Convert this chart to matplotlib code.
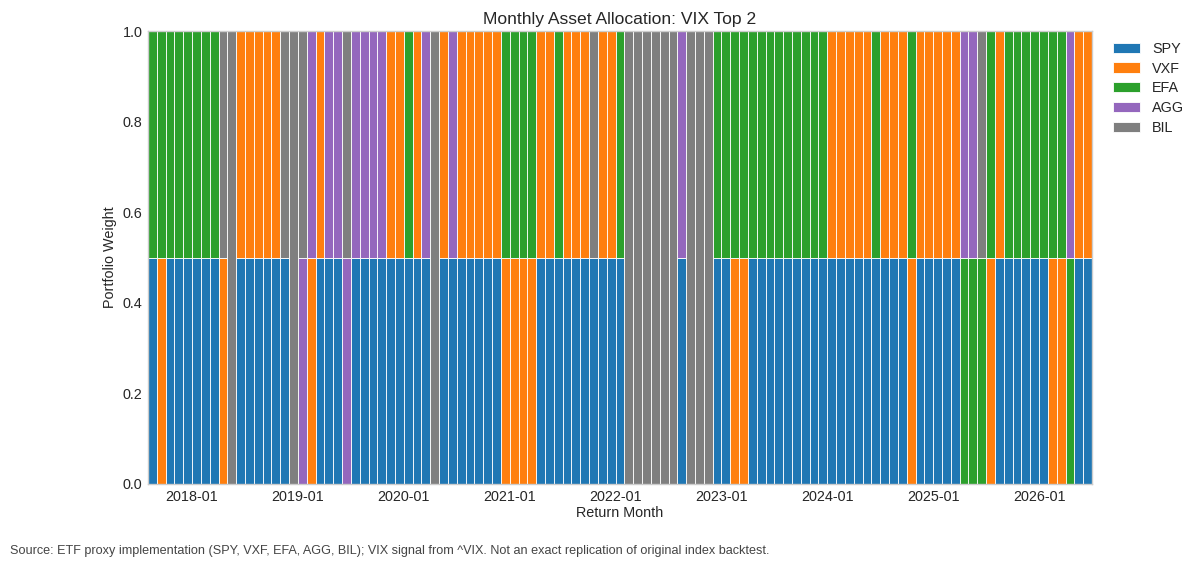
import matplotlib
matplotlib.use("Agg")
import matplotlib.pyplot as plt
import numpy as np
import pandas as pd
import seaborn as sns

# tickers and their colours (legend order = stacking order)
assets = ["SPY", "VXF", "EFA", "AGG", "BIL"]
colors = ["#1f77b4", "#ff7f0e", "#2ca02c", "#9467bd", "#7f7f7f"]

# return months shown on the chart
months = pd.date_range("2017-08-01", "2026-06-01", freq="MS")

# top-2 holdings per month, equal weighted (one ticker = 100%)
picks = [
    # 2017-08 .. 2017-12
    "SPY EFA", "VXF EFA", "SPY EFA", "SPY EFA", "SPY EFA",
    # 2018
    "SPY EFA", "SPY EFA", "SPY EFA", "VXF BIL", "BIL", "SPY VXF",
    "SPY VXF", "SPY VXF", "SPY VXF", "SPY VXF", "SPY BIL", "BIL",
    # 2019
    "AGG BIL", "VXF AGG", "SPY VXF", "SPY AGG", "SPY AGG", "AGG BIL",
    "SPY AGG", "SPY AGG", "SPY AGG", "SPY AGG", "SPY VXF", "SPY VXF",
    # 2020
    "SPY EFA", "SPY VXF", "SPY AGG", "BIL", "SPY VXF", "SPY AGG",
    "SPY VXF", "SPY VXF", "SPY VXF", "SPY VXF", "SPY VXF", "VXF EFA",
    # 2021
    "VXF EFA", "VXF EFA", "VXF EFA", "SPY VXF", "SPY VXF", "SPY EFA",
    "SPY VXF", "SPY VXF", "SPY VXF", "SPY BIL", "SPY VXF", "SPY VXF",
    # 2022
    "SPY EFA", "BIL", "BIL", "BIL", "BIL", "BIL",
    "BIL", "SPY AGG", "BIL", "BIL", "BIL", "SPY EFA",
    # 2023
    "SPY EFA", "VXF EFA", "VXF EFA", "SPY EFA", "SPY EFA", "SPY EFA",
    "SPY EFA", "SPY EFA", "SPY EFA", "SPY EFA", "SPY EFA", "SPY EFA",
    # 2024
    "SPY VXF", "SPY VXF", "SPY VXF", "SPY VXF", "SPY VXF", "SPY EFA",
    "SPY VXF", "SPY VXF", "SPY VXF", "VXF EFA", "SPY VXF", "SPY VXF",
    # 2025
    "SPY VXF", "SPY VXF", "SPY VXF", "EFA AGG", "EFA AGG", "EFA BIL",
    "VXF EFA", "SPY VXF", "SPY EFA", "SPY EFA", "SPY EFA", "SPY EFA",
    # 2026-01 .. 2026-06
    "SPY EFA", "VXF EFA", "VXF EFA", "EFA AGG", "SPY VXF", "SPY VXF",
]

weights = pd.DataFrame(0.0, index=months, columns=assets)
for m, p in zip(months, picks):
    held = p.split()
    for t in held:
        weights.loc[m, t] = 1.0 / len(held)

sns.set_style("whitegrid")
plt.rcParams["font.family"] = ["Liberation Sans", "DejaVu Sans"]

fig = plt.figure(figsize=(12, 5.66), dpi=100)
ax = fig.add_axes([0.1233, 0.1449, 0.7867, 0.8003])

x = np.arange(len(months))
bottom = np.zeros(len(months))
for a, c in zip(assets, colors):
    ax.bar(x, weights[a].values, width=1.0, bottom=bottom, color=c,
           edgecolor="white", linewidth=0.6, label=a)
    bottom += weights[a].values

ax.set_xlim(-0.5, len(months) - 0.5)
ax.set_ylim(0, 1)
ax.grid(False)

jan = [i for i, m in enumerate(months) if m.month == 1]
ax.set_xticks([i - 0.5 for i in jan])
ax.set_xticklabels([months[i].strftime("%Y-%m") for i in jan], fontsize=10.4)
ax.set_yticks([0, 0.2, 0.4, 0.6, 0.8, 1.0])
ax.set_yticklabels(["0.0", "0.2", "0.4", "0.6", "0.8", "1.0"], fontsize=10.4)
ax.tick_params(length=0, pad=4)
for s in ax.spines.values():
    s.set_color("#cccccc")
    s.set_linewidth(1.0)

ax.set_title("Monthly Asset Allocation: VIX Top 2", fontsize=12.6, pad=5)
ax.set_xlabel("Return Month", fontsize=10.4, labelpad=2)
ax.set_ylabel("Portfolio Weight", fontsize=10.4)

ax.legend(loc="upper left", bbox_to_anchor=(1.008, 1.005), frameon=False,
          fontsize=10.4, handlelength=1.9, handleheight=0.7, labelspacing=0.4,
          handletextpad=0.85)

fig.text(0.008, 0.016, "Source: ETF proxy implementation (SPY, VXF, EFA, AGG, BIL); "
         "VIX signal from ^VIX. Not an exact replication of original index backtest.",
         fontsize=9.1, color="#444444", ha="left", va="bottom")

fig.savefig("out.png", dpi=100)
